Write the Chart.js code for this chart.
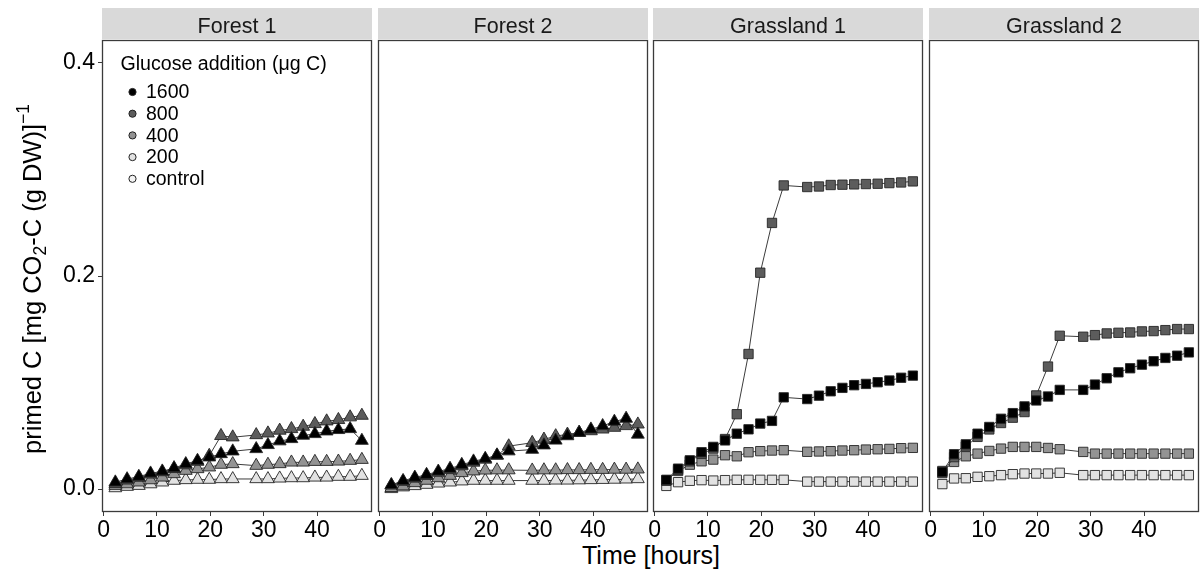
<!DOCTYPE html>
<html>
<head>
<meta charset="utf-8">
<script src="https://cdn.jsdelivr.net/npm/chart.js@4/dist/chart.umd.min.js"></script>
<style>
  html, body { margin: 0; padding: 0; background: #ffffff; }
  #wrap { position: relative; width: 1204px; height: 576px; overflow: hidden; background: #ffffff; }
  #wrap canvas { position: absolute; top: 0; }
  #xtitle {
    position: absolute; left: 0; width: 1302px; top: 541px; line-height: 28px;
    text-align: center; font: 25px "Liberation Sans", Arial, sans-serif; color: #000;
    white-space: nowrap;
  }
</style>
</head>
<body>
<div id="wrap">
  <div id="xtitle">Time [hours]</div>
</div>
<script>
// Sampling times (hours after glucose addition)
const TIME_H = [2.2, 4.4, 6.6, 8.8, 11, 13.2, 15.4, 17.6, 19.8, 22, 24.2,
                28.6, 30.8, 33, 35.2, 37.4, 39.6, 41.8, 44, 46.2, 48.4];

const SITES = ['Forest 1', 'Forest 2', 'Grassland 1', 'Grassland 2'];
const DOSES = ['1600', '800', '400', '200', 'control'];
const X_TICKS = [0, 10, 20, 30, 40];
const Y_TICKS = [0, 0.2, 0.4];
const Y_TICK_LABELS = ['0.0', '0.2', '0.4'];

// primed C, mg CO2-C per g dry weight
const forest1_1600 = [0.0064, 0.0094, 0.0117, 0.0148, 0.0167, 0.0198, 0.0236, 0.0267, 0.0299, 0.0330, 0.0355, 0.0377, 0.0415, 0.0450, 0.0471, 0.0503, 0.0518, 0.0543, 0.0556, 0.0565, 0.0455];
const forest1_800  = [0.0050, 0.0082, 0.0108, 0.0138, 0.0160, 0.0190, 0.0225, 0.0258, 0.0314, 0.0500, 0.0487, 0.0508, 0.0524, 0.0550, 0.0565, 0.0587, 0.0612, 0.0637, 0.0650, 0.0675, 0.0690];
const forest1_400  = [0.0032, 0.0047, 0.0064, 0.0085, 0.0110, 0.0142, 0.0173, 0.0189, 0.0205, 0.0230, 0.0236, 0.0220, 0.0230, 0.0236, 0.0251, 0.0251, 0.0257, 0.0257, 0.0260, 0.0267, 0.0276];
const forest1_200  = [0.0010, 0.0023, 0.0032, 0.0047, 0.0064, 0.0080, 0.0086, 0.0089, 0.0089, 0.0095, 0.0095, 0.0095, 0.0095, 0.0101, 0.0104, 0.0104, 0.0110, 0.0110, 0.0117, 0.0117, 0.0126];

const forest2_1600 = [0.0040, 0.0078, 0.0109, 0.0135, 0.0166, 0.0192, 0.0229, 0.0261, 0.0286, 0.0318, 0.0356, 0.0371, 0.0412, 0.0457, 0.0498, 0.0530, 0.0561, 0.0593, 0.0634, 0.0662, 0.0513];
const forest2_800  = [0.0035, 0.0070, 0.0100, 0.0125, 0.0155, 0.0180, 0.0215, 0.0250, 0.0278, 0.0315, 0.0403, 0.0435, 0.0466, 0.0498, 0.0513, 0.0530, 0.0545, 0.0561, 0.0577, 0.0593, 0.0608];
const forest2_400  = [0.0012, 0.0028, 0.0058, 0.0080, 0.0104, 0.0126, 0.0152, 0.0168, 0.0176, 0.0178, 0.0178, 0.0176, 0.0178, 0.0178, 0.0180, 0.0180, 0.0182, 0.0182, 0.0184, 0.0184, 0.0186];
const forest2_200  = [0.0002, 0.0018, 0.0030, 0.0042, 0.0054, 0.0064, 0.0074, 0.0080, 0.0080, 0.0080, 0.0080, 0.0080, 0.0080, 0.0082, 0.0082, 0.0084, 0.0086, 0.0088, 0.0090, 0.0092, 0.0095];

const grass1_1600  = [0.0087, 0.0192, 0.0270, 0.0346, 0.0396, 0.0457, 0.0520, 0.0561, 0.0615, 0.0640, 0.0861, 0.0845, 0.0877, 0.0918, 0.0950, 0.0975, 0.0987, 0.1003, 0.1019, 0.1045, 0.1065];
const grass1_800   = [0.0080, 0.0180, 0.0260, 0.0330, 0.0380, 0.0470, 0.0703, 0.1268, 0.2031, 0.2498, 0.2850, 0.2835, 0.2840, 0.2854, 0.2857, 0.2860, 0.2863, 0.2866, 0.2872, 0.2878, 0.2888];
const grass1_400   = [0.0080, 0.0170, 0.0229, 0.0261, 0.0277, 0.0318, 0.0308, 0.0346, 0.0356, 0.0362, 0.0365, 0.0350, 0.0353, 0.0356, 0.0362, 0.0365, 0.0371, 0.0374, 0.0377, 0.0384, 0.0387];
const grass1_200   = [0.0030, 0.0065, 0.0078, 0.0084, 0.0080, 0.0084, 0.0087, 0.0087, 0.0087, 0.0087, 0.0087, 0.0070, 0.0070, 0.0070, 0.0070, 0.0070, 0.0070, 0.0070, 0.0070, 0.0070, 0.0070];

const grass2_1600  = [0.0162, 0.0327, 0.0420, 0.0520, 0.0583, 0.0660, 0.0713, 0.0776, 0.0832, 0.0869, 0.0931, 0.0931, 0.0981, 0.1040, 0.1096, 0.1134, 0.1168, 0.1200, 0.1231, 0.1252, 0.1283];
const grass2_800   = [0.0150, 0.0300, 0.0400, 0.0490, 0.0560, 0.0620, 0.0670, 0.0723, 0.0879, 0.1150, 0.1439, 0.1430, 0.1445, 0.1461, 0.1467, 0.1470, 0.1480, 0.1483, 0.1492, 0.1502, 0.1502];
const grass2_400   = [0.0170, 0.0255, 0.0308, 0.0333, 0.0358, 0.0380, 0.0396, 0.0396, 0.0396, 0.0386, 0.0374, 0.0349, 0.0333, 0.0333, 0.0333, 0.0333, 0.0333, 0.0333, 0.0333, 0.0333, 0.0333];
const grass2_200   = [0.0047, 0.0100, 0.0102, 0.0115, 0.0121, 0.0131, 0.0140, 0.0146, 0.0146, 0.0146, 0.0153, 0.0131, 0.0131, 0.0131, 0.0131, 0.0131, 0.0131, 0.0131, 0.0131, 0.0131, 0.0131];

const SITE_SERIES = [
  [forest1_1600, forest1_800, forest1_400, forest1_200],
  [forest2_1600, forest2_800, forest2_400, forest2_200],
  [grass1_1600, grass1_800, grass1_400, grass1_200],
  [grass2_1600, grass2_800, grass2_400, grass2_200]
];

// ---- styling ----
const FONT = '"Liberation Sans", Arial, sans-serif';
const DOSE_FILL = ['#000000', '#5c5c5c', '#939393', '#e2e2e2', '#f3f3f3'];
const SITE_MARKER = ['triangle', 'triangle', 'rect', 'rect'];
const SITE_RADIUS = [7.4, 7.4, 6.6, 6.6];
const GEO = { left0: 102, width: 270, step: 275.6, top: 40, bottom: 512, canvasH: 545, stripTop: 8, stripH: 31 };

Chart.defaults.font.family = FONT;

const stripPlugin = {
  id: 'facetStrip',
  beforeDraw(chart, args, opts) {
    const { ctx, chartArea: a } = chart;
    ctx.save();
    ctx.fillStyle = '#d9d9d9';
    ctx.fillRect(a.left, GEO.stripTop, a.right - a.left, GEO.stripH);
    ctx.fillStyle = '#1a1a1a';
    ctx.font = '21.5px ' + FONT;
    ctx.textAlign = 'center';
    ctx.textBaseline = 'alphabetic';
    ctx.fillText(opts.text, (a.left + a.right) / 2, 32.5);
    ctx.restore();
  }
};

const panelBorderPlugin = {
  id: 'panelBorder',
  afterDraw(chart) {
    const { ctx, chartArea: a } = chart;
    ctx.save();
    ctx.strokeStyle = '#3b3b3b';
    ctx.lineWidth = 1.3;
    ctx.strokeRect(a.left + 0.5, a.top + 0.5, a.right - a.left - 1, a.bottom - a.top - 1);
    ctx.restore();
  }
};

// rotated y-axis title with CO2 subscript and -1 exponent
const yTitlePlugin = {
  id: 'yTitle',
  afterDraw(chart) {
    const { ctx, chartArea: a } = chart;
    const parts = [
      { t: 'primed C [mg CO', size: 25.5, dy: 0 },
      { t: '2', size: 17.5, dy: 5 },
      { t: '-C (g DW)]', size: 25.5, dy: 0 },
      { t: '\u22121', size: 17.5, dy: -12.5 }
    ];
    ctx.save();
    let total = 0;
    parts.forEach(p => { ctx.font = p.size + 'px ' + FONT; p.w = ctx.measureText(p.t).width; total += p.w; });
    ctx.translate(41, (a.top + a.bottom) / 2 + 3);
    ctx.rotate(-Math.PI / 2);
    ctx.fillStyle = '#000';
    ctx.textBaseline = 'alphabetic';
    ctx.textAlign = 'left';
    let x = -total / 2;
    parts.forEach(p => {
      ctx.font = p.size + 'px ' + FONT;
      ctx.fillText(p.t, x, p.dy);
      x += p.w;
    });
    ctx.restore();
  }
};

const doseLegendPlugin = {
  id: 'doseLegend',
  afterDraw(chart) {
    const { ctx, chartArea: a } = chart;
    ctx.save();
    ctx.fillStyle = '#000';
    ctx.textBaseline = 'middle';
    ctx.textAlign = 'left';
    ctx.font = '19.6px ' + FONT;
    ctx.fillText('Glucose addition (\u03bcg C)', a.left + 18.5, 65);
    ctx.font = '19.5px ' + FONT;
    DOSES.forEach((d, k) => {
      const cy = 92 + k * 21.7;
      ctx.beginPath();
      ctx.arc(a.left + 30.5, cy, 3.6, 0, Math.PI * 2);
      ctx.fillStyle = DOSE_FILL[k];
      ctx.fill();
      ctx.lineWidth = 1;
      ctx.strokeStyle = '#222';
      ctx.stroke();
      ctx.fillStyle = '#000';
      ctx.fillText(d, a.left + 44, cy + 1);
    });
    ctx.restore();
  }
};

const wrap = document.getElementById('wrap');

SITES.forEach((site, i) => {
  const panelLeft = GEO.left0 + i * GEO.step;
  const first = i === 0;
  const padL = first ? 0 : 12;
  const canvasLeft = first ? 0 : panelLeft - padL;
  const canvasW = Math.round(panelLeft - canvasLeft + GEO.width + 2);
  const canvas = document.createElement('canvas');
  canvas.width = canvasW;
  canvas.height = GEO.canvasH;
  canvas.style.left = canvasLeft + 'px';
  canvas.style.width = canvasW + 'px';
  canvas.style.height = GEO.canvasH + 'px';
  wrap.appendChild(canvas);

  const datasets = SITE_SERIES[i].map((vals, k) => ({
    label: DOSES[k],
    data: TIME_H.map((t, j) => ({ x: t, y: vals[j] })),
    borderColor: '#3c3c3c',
    borderWidth: 1,
    tension: 0,
    fill: false,
    pointStyle: SITE_MARKER[i],
    pointRadius: SITE_RADIUS[i],
    pointBackgroundColor: DOSE_FILL[k],
    pointBorderColor: '#262626',
    pointBorderWidth: 0.9,
    clip: 6
  }));

  const plugins = [stripPlugin, panelBorderPlugin];
  if (first) plugins.push(yTitlePlugin, doseLegendPlugin);

  new Chart(canvas, {
    type: 'line',
    data: { datasets },
    options: {
      responsive: false,
      animation: false,
      devicePixelRatio: 1,
      layout: {
        autoPadding: false,
        padding: { left: padL, right: 2, top: GEO.top, bottom: GEO.canvasH - GEO.bottom - 30 }
      },
      plugins: {
        legend: { display: false },
        tooltip: { enabled: false },
        facetStrip: { text: site }
      },
      scales: {
        x: {
          type: 'linear',
          min: -0.3,
          max: 50.3,
          afterBuildTicks: s => { s.ticks = X_TICKS.map(v => ({ value: v })); },
          afterFit: s => { s.height = 30; },
          grid: { drawOnChartArea: false, drawTicks: true, tickLength: 4, color: '#3b3b3b', lineWidth: 1 },
          border: { display: false },
          ticks: { color: '#000', font: { size: 23 }, padding: 1, maxRotation: 0, autoSkip: false }
        },
        y: {
          type: 'linear',
          display: first,
          min: -0.0215,
          max: 0.4215,
          afterBuildTicks: s => { s.ticks = Y_TICKS.map(v => ({ value: v })); },
          afterFit: s => { s.width = first ? panelLeft : 0; },
          grid: { drawOnChartArea: false, drawTicks: true, tickLength: 4, color: '#3b3b3b', lineWidth: 1 },
          border: { display: false },
          ticks: {
            color: '#000', font: { size: 23 }, padding: 3,
            callback: (v) => { const k = Y_TICKS.indexOf(v); return k >= 0 ? Y_TICK_LABELS[k] : ''; }
          }
        }
      }
    },
    plugins
  });
});
</script>
</body>
</html>
